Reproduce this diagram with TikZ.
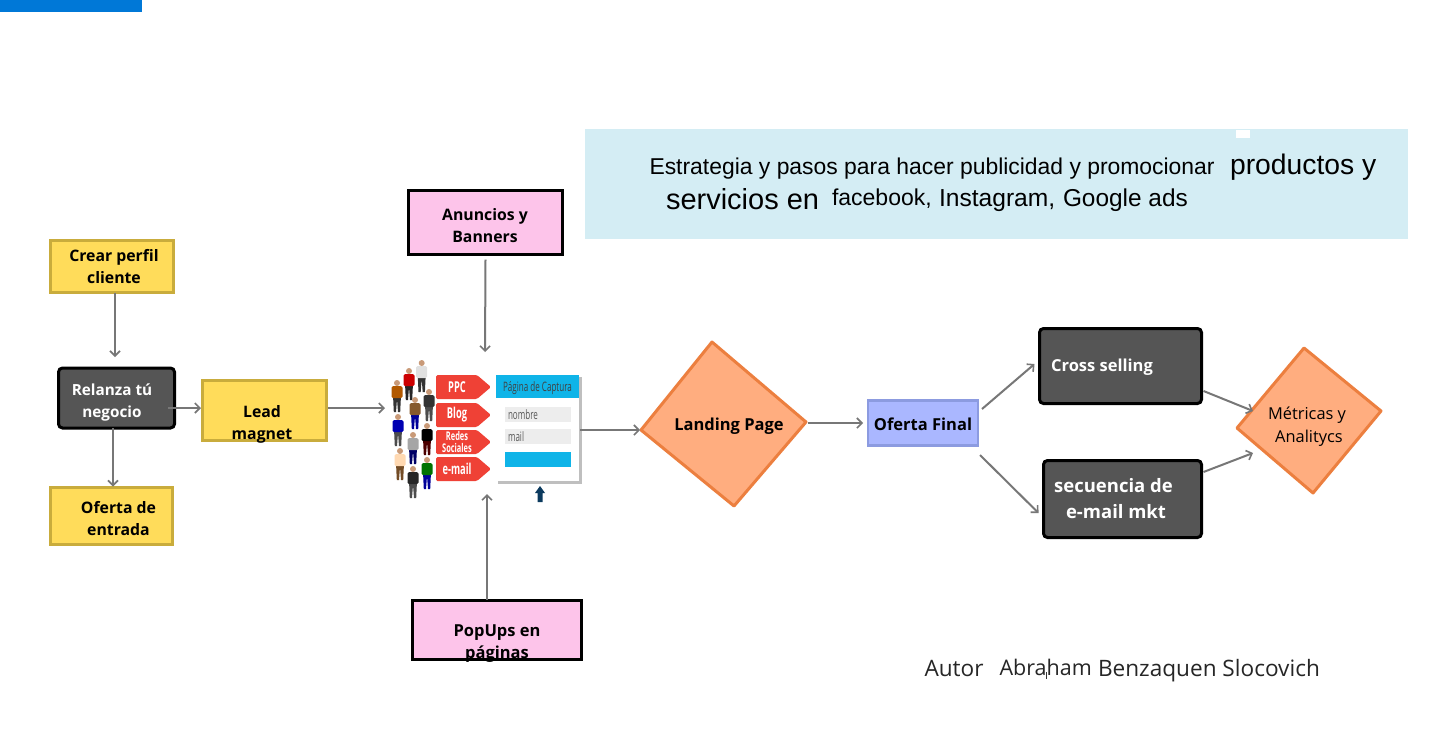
\documentclass[tikz,border=0pt]{standalone}
\usepackage{fontspec}
\usepackage{graphicx}
\usetikzlibrary{arrows.meta,shadows}
\setmainfont{Open Sans}
\newfontfamily\hdr{Liberation Sans}
\newcommand{\fs}[2]{\fontsize{#1}{#2}\selectfont}
\newcommand{\narrowtxt}[1]{\scalebox{.62}[1]{#1}}
\definecolor{ybox}{HTML}{FFDC5A}
\definecolor{yedge}{HTML}{C9AC3C}
\definecolor{dbox}{HTML}{555555}
\definecolor{pbox}{HTML}{FDC4EA}
\definecolor{obox}{HTML}{FFAD7F}
\definecolor{oedge}{HTML}{EC7F3F}
\definecolor{bbox}{HTML}{AAB7FF}
\definecolor{bedge}{HTML}{8C9BE0}
\definecolor{conncol}{HTML}{777777}
\definecolor{tagred}{HTML}{EF4136}
\definecolor{capblue}{HTML}{0FB4E8}
\definecolor{topblue}{HTML}{0078D7}
\definecolor{bannerblue}{HTML}{D4EDF4}
\definecolor{navyarrow}{HTML}{0B3A5E}
\definecolor{skin}{HTML}{C99A78}
\tikzset{
  every node/.style={inner sep=0pt,outer sep=0pt},
  yellowbox/.style={draw=yedge,fill=ybox,line width=3pt},
  darkbox/.style={draw=black,fill=dbox,line width=3pt,rounded corners=4pt},
  pinkbox/.style={draw=black,fill=pbox,line width=3pt},
  bluebox/.style={draw=bedge,fill=bbox,line width=2.5pt},
  diamondshape/.style={draw=oedge,fill=obox,line width=3pt,line join=round},
  lbl/.style={font=\fs{15.8}{22}\bfseries,align=center,text=black},
  lblw/.style={font=\fs{15.3}{22}\bfseries,align=center,text=white},
  linkstyle/.style={draw=conncol,line width=2pt,-{Straight Barb[length=5pt,width=10pt,line width=1.6pt]}},
  hdbase/.style={anchor=base west,text=black},
  aut/.style={anchor=base west,text=black!85},
  tagshape/.style={fill=tagred,draw=none,rounded corners=1.5pt},
  tagtxt/.style={text=white,font=\fs{15}{12}\bfseries,align=center},
}
% x, y(top), shirt, pants
\newcommand{\person}[4]{%
  \begin{scope}[shift={(#1,#2)}]
    \fill[#4] (-4,15) -- (-3.2,32) -- (-1,32) -- (0,19) -- (1,32) -- (3.2,32) -- (4,15) -- cycle;
    \fill[#3,rounded corners=1.5pt] (-5.5,6) rectangle (5.5,18);
    \fill[skin] (0,3) circle (3);
  \end{scope}}
\begin{document}
\begin{tikzpicture}[x=1pt,y=-1pt]
\useasboundingbox (0,0) rectangle (1440,750);
\fill[white] (0,0) rectangle (1440,750);
\fill[topblue] (0,0) rectangle (142,12);

% banner
\node[fill=bannerblue,minimum width=823pt,minimum height=110pt] (banner) at (996.5,184) {};
\fill[white] (1236,130) rectangle (1250,138);
\node[hdbase,font=\hdr\fs{22.9}{26}] (h1) at (649.5,174) {Estrategia y pasos para hacer publicidad y promocionar};
\node[hdbase,font=\hdr\fs{28.3}{30}] (h2) at (1230,174) {productos y};
\node[hdbase,font=\hdr\fs{29}{30}] (h3) at (666,209) {servicios en};
\node[hdbase,font=\hdr\fs{23}{28}] (h4) at (832,205) {facebook,};
\node[hdbase,font=\hdr\fs{24.6}{28}] (h5) at (939,206) {Instagram,};
\node[hdbase,font=\hdr\fs{24.4}{28}] (h6) at (1063,206) {Google ads};

% left column
\node[yellowbox,minimum width=123pt,minimum height=52pt,label={[lbl,xshift=2pt]center:Crear perfil\\cliente}] (crear) at (112,266.5) {};
\node[darkbox,minimum width=116pt,minimum height=60pt,label={[lblw,yshift=-4.5pt,xshift=-4.5pt]center:Relanza tú\\negocio}] (relanza) at (116.5,398) {};
\node[yellowbox,minimum width=124pt,minimum height=60pt,label={[lbl,xshift=-2.5pt,yshift=-13.5pt]center:Lead\\magnet}] (lead) at (264.5,410.5) {};
\node[yellowbox,minimum width=122pt,minimum height=57pt,label={[lbl,xshift=7pt,yshift=-3pt]center:Oferta de\\entrada}] (oferta) at (111.5,516) {};

% pink boxes
\node[pinkbox,minimum width=154pt,minimum height=64pt,label={[lbl,xshift=-.5pt,yshift=-3.5pt]center:Anuncios y\\Banners}] (anuncios) at (485.5,222.5) {};
\node[pinkbox,minimum width=169pt,minimum height=59pt,label={[lbl,font=\fs{16.5}{22}\bfseries,yshift=-14pt]center:PopUps en\\páginas}] (popups) at (497,630) {};

% capture image
\node[minimum width=194pt,minimum height=142pt] (captura) at (485,429) {};
\person{421.7}{360}{black!12}{black!80}
\person{409}{368}{red!80!black}{black!85}
\person{397}{380}{orange!70!black}{black!80}
\person{429}{389}{black!80}{black!70}
\person{415}{397}{brown!70!black}{blue!60!black}
\person{398}{414}{blue!70!black}{black!70}
\person{427}{423}{black}{red!30!black}
\person{413}{432}{gray!70}{blue!40!black}
\person{400}{448}{orange!30}{brown!60!black}
\person{427}{457}{green!45!black}{blue!60!black}
\person{413}{466}{black!85}{black!70}
\foreach \yy in {375,403,430,457}{
  \path[tagshape] (436,\yy) -- (477,\yy) -- (491,\yy+12) -- (477,\yy+24) -- (436,\yy+24) -- cycle;
}
\node[tagtxt] (tppc) at (457,387) {\narrowtxt{PPC}};
\node[tagtxt] (tblog) at (457,415) {\narrowtxt{Blog}};
\node[tagtxt,font=\fs{12}{12}\bfseries] (tredes) at (457,441.5) {\narrowtxt{Redes}\\\narrowtxt{Sociales}};
\node[tagtxt] (tmail) at (457,469) {\narrowtxt{e-mail}};
\fill[black!25] (498,377) rectangle (581.5,483.5);
\fill[white] (496,375) rectangle (579,481);
\fill[capblue] (496,375) rectangle (579,398);
\node[font=\fs{13}{13},text=black!75] (tcap) at (537.5,388) {\narrowtxt{Página de Captura}};
\foreach \yy in {407,429}{\fill[black!7] (505,\yy) rectangle (571,\yy+15);}
\node[anchor=west,font=\fs{13}{13},text=black!65] (tnom) at (508,415) {\narrowtxt{nombre}};
\node[anchor=west,font=\fs{13}{13},text=black!65] (tmil) at (508,437) {\narrowtxt{mail}};
\fill[capblue] (505,452) rectangle (571,467);
\fill[navyarrow] (537.5,502) -- (537.5,493) -- (535,493) -- (540,486) -- (545,493) -- (542.5,493) -- (542.5,502) -- cycle;

% diamonds
\coordinate (ldW) at (641,430);
\coordinate (ldE) at (806,422);
\path[diamondshape] (ldW) -- (712,342) -- (ldE) -- (734,506) -- cycle;
\node[font=\fs{16.5}{22}\bfseries] (landing) at (729,426) {Landing Page};
\coordinate (mdW) at (1237,428);
\path[diamondshape] (mdW) -- (1304,348) -- (1381,411) -- (1313,493) -- cycle;
\node[font=\fs{16.4}{23},align=center] (metricas) at (1307,426.5) {Métricas y\\\hspace*{4pt}Analitycs};

% right boxes
\node[bluebox,minimum width=110pt,minimum height=45pt,label={[font=\fs{16.5}{22}\bfseries,yshift=-1pt]center:Oferta Final}] (final) at (923,423) {};
\node[darkbox,minimum width=162pt,minimum height=75pt,label={[lblw,font=\fs{16.5}{22}\bfseries,xshift=-18.5pt,yshift=-1pt]center:Cross selling}] (cross) at (1120.5,366) {};
\node[darkbox,minimum width=158pt,minimum height=77pt,label={[lblw,font=\fs{18.5}{26}\bfseries,xshift=-9pt]center:secuencia de\\\hspace*{5pt}e-mail mkt}] (secuencia) at (1122.5,499) {};

% author
\node[aut,font=\fs{22.6}{26}] (a1) at (924.5,676) {Autor};
\node[aut,font=\fs{21.5}{26}] (a2) at (999.5,675) {Abraham};
\node[aut,font=\fs{22.6}{26}] (a3) at (1098,676) {Benzaquen Slocovich};
\draw[black!80,line width=.8pt] (1046,672) -- (1046,679);

% connectors
\draw[linkstyle] ([xshift=3pt]crear.south) -- ([xshift=-1.5pt,yshift=11pt]relanza.north);
\draw[linkstyle] ([xshift=-3.5pt]relanza.south) -- ([xshift=1.5pt,yshift=1pt]oferta.north);
\draw[linkstyle] ([xshift=-6.5pt,yshift=-10pt]relanza.east) -- ([xshift=-1.5pt,yshift=2.5pt]lead.west);
\draw[linkstyle] ([xshift=1.5pt,yshift=2.5pt]lead.east) -- ([xshift=-3pt,yshift=21pt]captura.west);
\draw[linkstyle] ([yshift=-5pt]anuncios.south) -- ([yshift=6pt]captura.north);
\draw[linkstyle] ([xshift=-10pt,yshift=1pt]popups.north) -- ([xshift=2pt,yshift=6pt]captura.south);
\draw[linkstyle] ([xshift=-2pt,yshift=-1pt]captura.east) -- ([xshift=-1pt]ldW);
\draw[linkstyle] ([xshift=2pt,yshift=-1pt]ldE) -- ([xshift=-5pt]final.west);
\draw[linkstyle] ([xshift=4pt,yshift=14pt]final.east) -- ([xshift=-5pt,yshift=2pt]cross.west);
\draw[linkstyle] ([xshift=2pt,yshift=-32pt]final.east) -- ([xshift=-5pt,yshift=-14pt]secuencia.west);
\draw[linkstyle] ([xshift=2pt,yshift=-25pt]cross.east) -- ([xshift=16pt,yshift=17pt]mdW);
\draw[linkstyle] ([xshift=2pt,yshift=27pt]secuencia.east) -- ([xshift=16pt,yshift=-25pt]mdW);
\end{tikzpicture}
\end{document}
